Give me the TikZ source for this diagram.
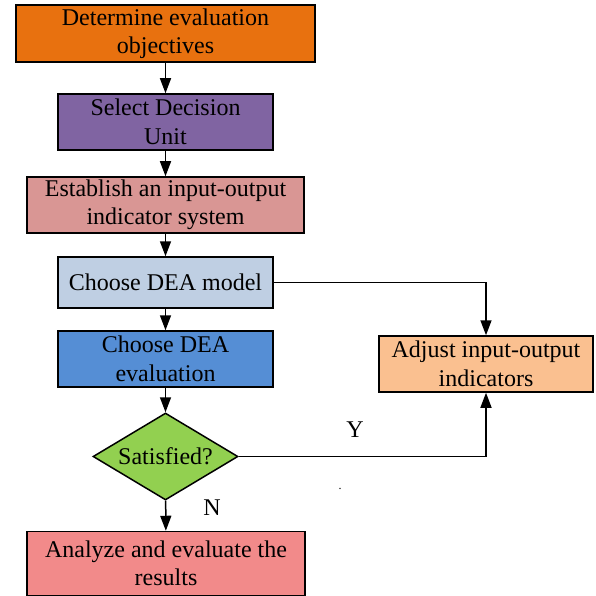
\documentclass[tikz,border=0pt]{standalone}
\usepackage{fontspec}
\setmainfont{Liberation Serif}
\newfontfamily\tnr[Ligatures=NoCommon]{Liberation Serif}
\usetikzlibrary{shapes.geometric,arrows.meta}
\definecolor{cOrange}{HTML}{E8710F}
\definecolor{cPurple}{HTML}{8064A2}
\definecolor{cPink}{HTML}{D99694}
\definecolor{cLight}{HTML}{BFCFE3}
\definecolor{cBlue}{HTML}{558ED5}
\definecolor{cGreen}{HTML}{92D050}
\definecolor{cSalmon}{HTML}{F28A8A}
\definecolor{cPeach}{HTML}{FAC090}
\tikzset{
  txt/.style={font=\tnr\fontsize{24}{28.5}\selectfont},
  box/.style={draw=black, line width=1.5pt, rectangle, inner sep=0pt, align=center, txt},
  dec/.style={draw=black, line width=1.5pt, diamond, shape aspect=1.67, inner sep=0pt,
    minimum width=145pt, minimum height=87pt, txt},
  arr/.style={line width=1.5pt, -{Triangle[length=15pt,width=11pt]}},
  lbl/.style={txt, inner sep=0pt}
}
\begin{document}
\begin{tikzpicture}[x=1pt,y=-1pt]
\useasboundingbox (0,0) rectangle (595,596);
\node[box, fill=cOrange, minimum width=299pt, minimum height=57pt] (b1) at (165.5,33.5) {Determine evaluation\\objectives};
\node[box, fill=cPurple, minimum width=215pt, minimum height=56pt] (b2) at (165.5,122) {Select Decision\\Unit};
\node[box, fill=cPink, minimum width=277pt, minimum height=56pt] (b3) at (165.5,205) {Establish an input-output\\indicator system};
\node[box, fill=cLight, minimum width=215pt, minimum height=51pt] (b4) at (165.5,282.5) {Choose DEA model};
\node[box, fill=cBlue, minimum width=215pt, minimum height=56pt] (b5) at (165.5,359) {Choose DEA\\evaluation};
\node[dec, fill=cGreen] (d) at (165.5,456.5) {Satisfied?};
\node[box, fill=cSalmon, minimum width=278pt, minimum height=64pt] (b6) at (166,563.5) {Analyze and evaluate the\\results};
\node[box, fill=cPeach, minimum width=214pt, minimum height=56pt] (r) at (486,364) {Adjust input-output\\indicators};

\draw[arr] (b1) -- (b2);
\draw[arr] (b2) -- (b3);
\draw[arr] (b3) -- (b4);
\draw[arr] (b4) -- (b5);
\draw[arr] (b5) -- (d);
\draw[arr] (d) -- (b6);
\draw[arr] (b4.east) -| (r.north);
\draw[arr] (d.east) -| (r.south);

\node[lbl] (ylab) at (355,430) {Y};
\node[lbl] (nlab) at (212,508) {N};
\node[lbl, font=\tnr\fontsize{12}{14}\selectfont] (dot) at (340,489) {.};
\end{tikzpicture}
\end{document}
